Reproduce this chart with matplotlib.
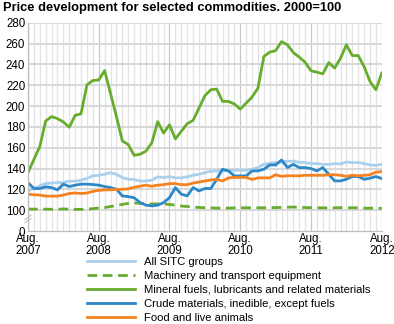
import numpy as np
import matplotlib
matplotlib.use("Agg")
import matplotlib.pyplot as plt

plt.rcParams['font.family'] = ['Liberation Sans', 'DejaVu Sans']

# monthly index values, Aug. 2007 - Aug. 2012 (2000=100)
all_sitc = [118.5, 120.8, 123.3, 125.6, 126, 126.5, 126.5, 127.8, 127.8, 128.8,
            130.4, 133, 133.5, 134.5, 136, 134.5, 131.3, 129.7, 129.4, 128,
            128, 128.8, 132, 131.3, 132.3, 131, 131, 132, 133.5, 134.5,
            136, 137.4, 137.7, 137.7, 138.3, 138.3, 138.3, 138.3, 139.3, 141,
            144, 145, 145.7, 146.3, 147, 147, 146, 145.7, 144.7, 144.7,
            144, 144, 144.7, 144.4, 146.3, 145.7, 145.7, 144.7, 143.4, 143, 144]
machinery = [101, 101, 101, 101, 100.8, 100.8, 101.2, 101, 100.8, 100.8,
             101, 101.5, 102, 102.5, 103.5, 104.5, 105.5, 106.5, 107, 106.5,
             106.3, 106, 106, 106, 105.5, 104.8, 104, 103.5, 103, 102.6,
             102.3, 102.2, 102, 102, 102, 102.2, 102.3, 102.3, 102.3, 102.3,
             102.3, 102.4, 102.5, 102.6, 102.8, 103, 102.7, 102.5, 102.4, 102.3,
             102.2, 102.2, 102.3, 102.4, 102.4, 102.3, 102.2, 102, 101.9, 101.8, 101.8]
mineral_fuels = [136, 148.6, 161, 185.6, 189.8, 187.9, 184.7, 179.6, 191, 192.6,
                 220.3, 224.5, 225, 234, 212, 190, 166.5, 163, 152.7, 153.7,
                 156.6, 164.6, 185, 174, 182, 168.4, 175.7, 183, 186.2, 198,
                 209.9, 215.6, 216.3, 204.4, 204.4, 202, 197, 202.8, 208.6, 217.2,
                 247.5, 251.7, 253.2, 261.8, 258.7, 251.3, 246.9, 242, 233.8, 232.5,
                 230.9, 241.7, 236.4, 245.9, 258.7, 248.4, 248.4, 237.9, 223.5, 215.6, 231.6]
crude = [126.5, 120.8, 120.8, 122.4, 121.7, 119.5, 125, 122.7, 124, 125,
         125, 124.6, 124, 122.7, 121.7, 120.1, 113.7, 113, 112, 107.3,
         104.8, 104.1, 104.8, 107.3, 112, 121.7, 115.3, 113.7, 121.7, 118.5,
         120.8, 120.8, 129.7, 139.3, 137.7, 132.9, 132.9, 132.9, 137.7, 137.7,
         139.3, 143.4, 143.4, 148.2, 140.9, 144, 140.9, 140.9, 140, 137.7,
         140.9, 134.5, 128.1, 128.1, 129.7, 132.3, 132.3, 129.7, 130.7, 132.3, 130.4]
food = [115.3, 114.8, 114.5, 113.5, 113.5, 113.5, 114.5, 116, 116.5, 116,
        116.5, 118, 119, 119.5, 119.5, 120, 120, 120.5, 122, 123,
        124, 123, 124, 124.5, 125.5, 125.5, 124.5, 124.5, 126, 127,
        128, 129, 129.5, 128, 131, 131.5, 131.5, 131.5, 129.5, 131,
        131, 131, 134, 132.5, 133, 133, 133, 133.5, 133.5, 133.5,
        133.5, 134, 134, 133.5, 132.5, 133.5, 133, 133.5, 134, 136.5, 137]

tick_months = [0, 12, 24, 36, 48, 60]
tick_labels = ["Aug.\n2007", "Aug.\n2008", "Aug.\n2009", "Aug.\n2010", "Aug.\n2011", "Aug.\n2012"]
y_ticks = [80, 100, 120, 140, 160, 180, 200, 220, 240, 260, 280]
y_labels = ["0", "100", "120", "140", "160", "180", "200", "220", "240", "260", "280"]

c_light = "#a9d0ec"
c_green = "#66ad2e"
c_blue = "#2d88c8"
c_orange = "#f5821f"

fig = plt.figure(figsize=(3.94, 3.24), dpi=100)
ax = fig.add_axes([0.071, 0.287, 0.898, 0.643])

x = np.arange(len(all_sitc))

# grid
for m in range(61):
    col = "#c8c8c8" if m % 12 == 0 else "#e2e2e2"
    ax.axvline(m, color=col, lw=0.9, zorder=0)
for v in y_ticks[1:]:
    ax.axhline(v, color="#d6d6d6", lw=1.3, zorder=0)

l1, = ax.plot(x, all_sitc, color=c_light, lw=2, label="All SITC groups")
l2, = ax.plot(x, machinery, color=c_green, lw=2, ls=(0, (3.5, 2)), label="Machinery and transport equipment")
l3, = ax.plot(x, mineral_fuels, color=c_green, lw=2, label="Mineral fuels, lubricants and related materials")
l4, = ax.plot(x, crude, color=c_blue, lw=2, label="Crude materials, inedible, except fuels")
l5, = ax.plot(x, food, color=c_orange, lw=2, label="Food and live animals")

ax.set_xlim(0, 60)
ax.set_ylim(80, 280)
ax.set_xticks(tick_months)
ax.set_xticklabels(tick_labels, fontsize=8.3, linespacing=0.95)
ax.set_yticks(y_ticks)
ax.set_yticklabels(y_labels, fontsize=8.3)
ax.tick_params(length=0, pad=2)
ax.tick_params(axis="x", pad=1.5)

for s in ["top", "right"]:
    ax.spines[s].set_visible(False)
for s in ["left", "bottom"]:
    ax.spines[s].set_color("#bdbdbd")
    ax.spines[s].set_linewidth(0.9)

# axis break marks
for dy in (0, 3):
    ax.plot([-0.5, 0.5], [88 + dy, 92 + dy], color="#bdbdbd", lw=0.8, clip_on=False, zorder=5)

fig.text(0.008, 0.995, "Price development for selected commodities. 2000=100",
         fontsize=9.3, fontweight="bold", va="top", ha="left")

fig.legend(handles=[l1, l2, l3, l4, l5], loc="upper left",
           bbox_to_anchor=(0.222, 0.208), frameon=False, fontsize=8.1,
           handlelength=4.2, handletextpad=0.8, labelspacing=0.36,
           borderpad=0, borderaxespad=0)

fig.savefig("out.png", dpi=100)
